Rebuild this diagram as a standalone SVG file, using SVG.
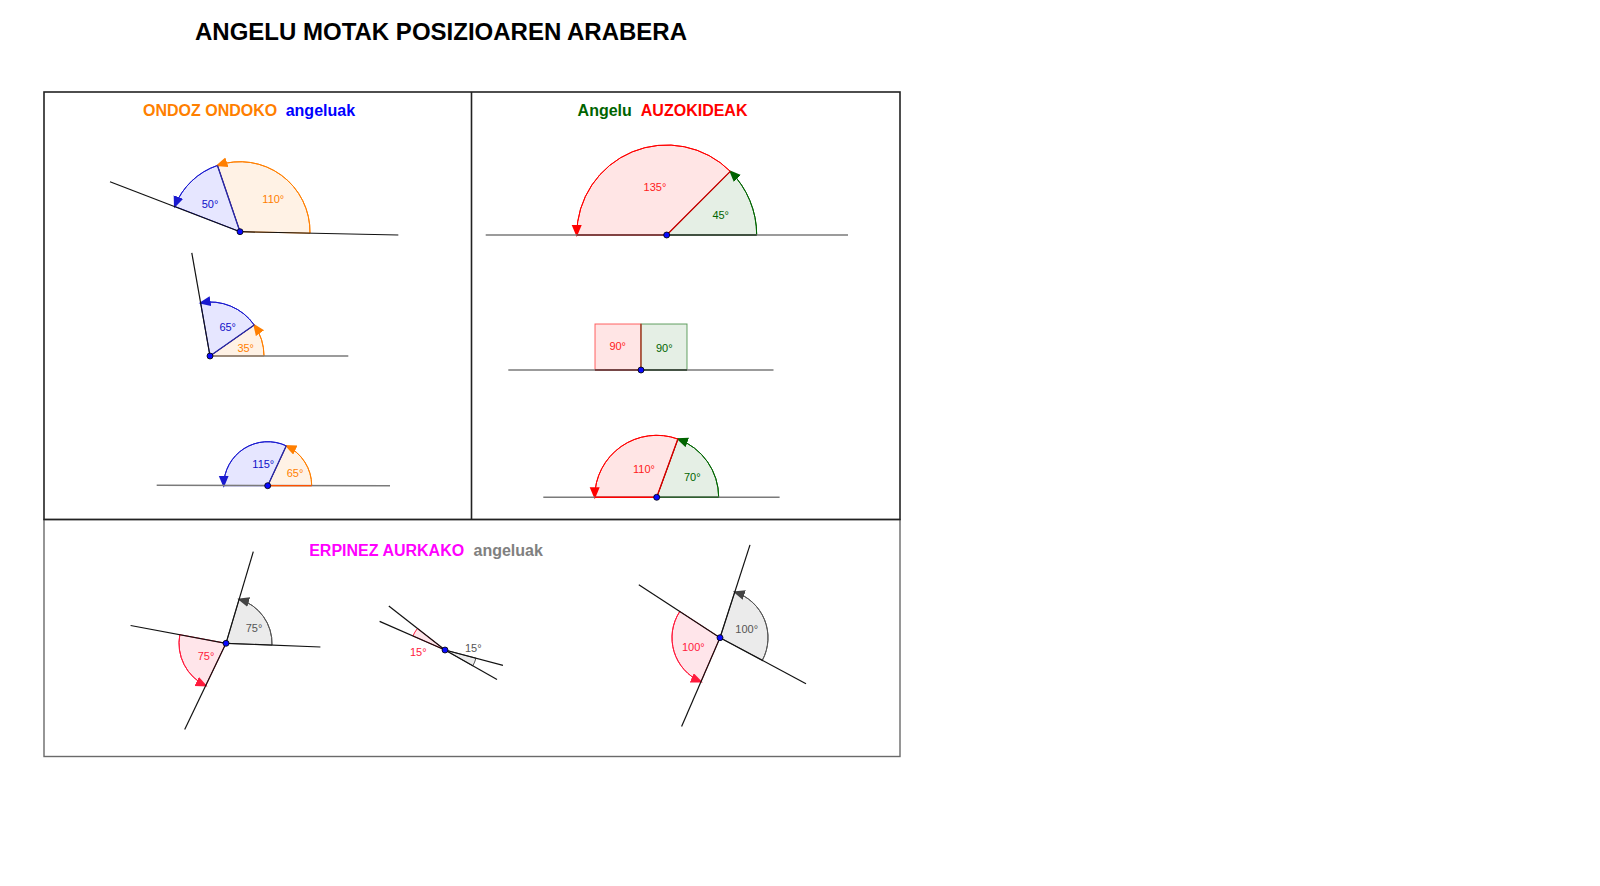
<svg xmlns="http://www.w3.org/2000/svg" width="1600" height="886" viewBox="0 0 1600 886">
<style>
text{font-family:"Liberation Sans",Arial,sans-serif}
.title{font-size:24px;font-weight:bold;fill:#000}
.hd{font-size:16px;font-weight:bold}
.lb{font-size:11px;text-anchor:middle}
.ln{stroke:#111;stroke-width:1.2;fill:none}
.gl{stroke:#7a7a7a;stroke-width:1.6;fill:none}
.dot{fill:#0a0aff;stroke:#000;stroke-width:0.8}
.or{fill:#FFF2E5;stroke:#FF7F00;stroke-width:1}
.bl{fill:#E6E6FF;stroke:#1a1ad0;stroke-width:1}
.rd{fill:#FFE5E5;stroke:#FF0000;stroke-width:1}
.gr{fill:#E5EFE5;stroke:#006400;stroke-width:1}
.gy{fill:#EBEBEB;stroke:#555;stroke-width:1}
.pk{fill:#FFE5EA;stroke:#FF1A3C;stroke-width:1}
.arc{fill:none}
</style>
<defs>
<marker id="aO" markerUnits="userSpaceOnUse" markerWidth="14" markerHeight="12" refX="10" refY="5" orient="auto"><path d="M0,0 L12,5 L0,10 Z" fill="#FF7F00"/></marker>
<marker id="aB" markerUnits="userSpaceOnUse" markerWidth="14" markerHeight="12" refX="10" refY="5" orient="auto"><path d="M0,0 L12,5 L0,10 Z" fill="#1a1ad0"/></marker>
<marker id="aR" markerUnits="userSpaceOnUse" markerWidth="14" markerHeight="12" refX="10" refY="5" orient="auto"><path d="M0,0 L12,5 L0,10 Z" fill="#FF0000"/></marker>
<marker id="aG" markerUnits="userSpaceOnUse" markerWidth="14" markerHeight="12" refX="10" refY="5" orient="auto"><path d="M0,0 L12,5 L0,10 Z" fill="#006400"/></marker>
<marker id="aY" markerUnits="userSpaceOnUse" markerWidth="14" markerHeight="12" refX="10" refY="5" orient="auto"><path d="M0,0 L12,5 L0,10 Z" fill="#444"/></marker>
<marker id="aP" markerUnits="userSpaceOnUse" markerWidth="14" markerHeight="12" refX="10" refY="5" orient="auto"><path d="M0,0 L12,5 L0,10 Z" fill="#FF1A3C"/></marker>
</defs>
<rect width="1600" height="886" fill="#fff"/>
<text class="title" x="195" y="39.5">ANGELU MOTAK POSIZIOAREN ARABERA</text>

<g id="frame">
<rect x="44" y="519.5" width="856" height="237" fill="none" stroke="#6a6a6a" stroke-width="1.4"/>
<rect x="44" y="92" width="856" height="427.5" fill="none" stroke="#222" stroke-width="1.6"/>
<line x1="471.5" y1="92" x2="471.5" y2="519.5" stroke="#222" stroke-width="1.6"/>
</g>

<g id="headers">
<text class="hd" x="143" y="116" fill="#FF7F00">ONDOZ ONDOKO</text>
<text class="hd" x="285.7" y="116" fill="#0000FF">angeluak</text>
<text class="hd" x="577.6" y="116" fill="#006400">Angelu</text>
<text class="hd" x="640.8" y="116" fill="#FF0000">AUZOKIDEAK</text>
<text class="hd" x="309.2" y="555.8" fill="#FF00FF">ERPINEZ AURKAKO</text>
<text class="hd" x="473.5" y="555.8" fill="#808080">angeluak</text>
</g>

<g id="ondoz1">
<path class="or" d="M240,231.7 L309.98,233.17 A70,70 0 0 0 217.44,165.44 Z"/>
<path class="bl" d="M240,231.7 L217.44,165.44 A70,70 0 0 0 174.74,206.39 Z"/>
<path class="arc" stroke="#FF7F00" d="M309.98,233.17 A70,70 0 0 0 217.44,165.44" marker-end="url(#aO)"/>
<path class="arc" stroke="#1a1ad0" d="M217.44,165.44 A70,70 0 0 0 174.74,206.39" marker-end="url(#aB)"/>
<line class="ln" x1="240" y1="231.7" x2="398.3" y2="235"/>
<line class="ln" x1="240" y1="231.7" x2="110" y2="181.7"/>
<line x1="240" y1="231.7" x2="217.44" y2="165.44" stroke="#2a2aa0" stroke-width="1.3"/>
<circle class="dot" cx="240" cy="231.7" r="3"/>
<text class="lb" x="210" y="208" fill="#1010C8">50°</text>
<text class="lb" x="273.3" y="203.3" fill="#FF7F00">110°</text>
</g>

<g id="ondoz2">
<path class="or" d="M210,356 L264,356 A54,54 0 0 0 254.24,325.03 Z"/>
<path class="bl" d="M210,356 L254.24,325.03 A54,54 0 0 0 200.62,302.82 Z"/>
<path class="arc" stroke="#FF7F00" d="M264,356 A54,54 0 0 0 254.24,325.03" marker-end="url(#aO)"/>
<path class="arc" stroke="#1a1ad0" d="M254.24,325.03 A54,54 0 0 0 200.62,302.82" marker-end="url(#aB)"/>
<line class="gl" x1="210" y1="356" x2="348.3" y2="356"/>
<line class="ln" x1="210" y1="356" x2="191.8" y2="252.9"/>
<line x1="210" y1="356" x2="254.24" y2="325.03" stroke="#2a2aa0" stroke-width="1.3"/>
<circle class="dot" cx="210" cy="356" r="3"/>
<text class="lb" x="227.7" y="330.7" fill="#1010C8">65°</text>
<text class="lb" x="245.7" y="352.3" fill="#FF7F00">35°</text>
</g>

<g id="ondoz3">
<path class="or" d="M267.7,485.7 L311.7,485.7 A44,44 0 0 0 286.29,445.82 Z"/>
<path class="bl" d="M267.7,485.7 L286.29,445.82 A44,44 0 0 0 223.7,485.7 Z"/>
<path class="arc" stroke="#FF7F00" d="M311.7,485.7 A44,44 0 0 0 286.29,445.82" marker-end="url(#aO)"/>
<path class="arc" stroke="#1a1ad0" d="M286.29,445.82 A44,44 0 0 0 223.7,485.7" marker-end="url(#aB)"/>
<line class="gl" x1="156.7" y1="485.3" x2="390" y2="485.7"/>
<line x1="267.7" y1="485.7" x2="311.7" y2="485.7" stroke="#FF5000" stroke-width="1.3"/>
<line x1="267.7" y1="485.7" x2="286.29" y2="445.82" stroke="#2a2aa0" stroke-width="1.3"/>
<circle class="dot" cx="267.7" cy="485.7" r="3"/>
<text class="lb" x="263.3" y="468.3" fill="#1010C8">115°</text>
<text class="lb" x="295" y="477.3" fill="#FF7F00">65°</text>
</g>

<g id="auzo1">
<path class="gr" d="M666.7,235 L756.7,235 A90,90 0 0 0 730.34,171.36 Z"/>
<path class="rd" d="M666.7,235 L730.34,171.36 A90,90 0 0 0 576.7,235 Z"/>
<path class="arc" stroke="#006400" d="M756.7,235 A90,90 0 0 0 730.34,171.36" marker-end="url(#aG)"/>
<path class="arc" stroke="#FF0000" d="M730.34,171.36 A90,90 0 0 0 576.7,235" marker-end="url(#aR)"/>
<line class="gl" x1="485.7" y1="235" x2="848" y2="235"/>
<line x1="576.7" y1="235" x2="666.7" y2="235" stroke="#7a3030" stroke-width="1.6"/>
<line x1="666.7" y1="235" x2="756.7" y2="235" stroke="#2f3f2f" stroke-width="1.6"/>
<line x1="666.7" y1="235" x2="730.34" y2="171.36" stroke="#c00000" stroke-width="1.2"/>
<circle class="dot" cx="666.7" cy="235" r="3"/>
<text class="lb" x="655" y="190.7" fill="#FF2020">135°</text>
<text class="lb" x="720.7" y="219" fill="#006400">45°</text>
</g>

<g id="auzo2">
<rect class="rd" x="595" y="324" width="46" height="46" stroke-opacity="0.6"/>
<rect class="gr" x="641" y="324" width="46" height="46" stroke-opacity="0.6"/>
<line class="gl" x1="508.3" y1="370" x2="773.5" y2="370"/>
<line x1="595" y1="370" x2="641" y2="370" stroke="#6a3030" stroke-width="1.6"/>
<line x1="641" y1="370" x2="687" y2="370" stroke="#2f3f2f" stroke-width="1.6"/>
<line x1="641" y1="324" x2="641" y2="370" stroke="#b04030" stroke-width="1.4"/>
<circle class="dot" cx="641" cy="370" r="3"/>
<text class="lb" x="617.7" y="350" fill="#FF2020">90°</text>
<text class="lb" x="664.3" y="351.7" fill="#006400">90°</text>
</g>

<g id="auzo3">
<path class="gr" d="M656.7,497.3 L718.7,497.3 A62,62 0 0 0 677.9,439.04 Z"/>
<path class="rd" d="M656.7,497.3 L677.9,439.04 A62,62 0 0 0 594.7,497.3 Z"/>
<path class="arc" stroke="#006400" d="M718.7,497.3 A62,62 0 0 0 677.9,439.04" marker-end="url(#aG)"/>
<path class="arc" stroke="#FF0000" d="M677.9,439.04 A62,62 0 0 0 594.7,497.3" marker-end="url(#aR)"/>
<line class="gl" x1="543.3" y1="497.3" x2="779.6" y2="497.3"/>
<line x1="594.7" y1="497.3" x2="656.7" y2="497.3" stroke="#FF0000" stroke-width="1.4"/>
<line x1="656.7" y1="497.3" x2="718.7" y2="497.3" stroke="#2f5f2f" stroke-width="1.4"/>
<line x1="656.7" y1="497.3" x2="677.9" y2="439.04" stroke="#d00000" stroke-width="1.3"/>
<circle class="dot" cx="656.7" cy="497.3" r="3"/>
<text class="lb" x="644" y="473.3" fill="#FF2020">110°</text>
<text class="lb" x="692.3" y="480.7" fill="#006400">70°</text>
</g>

<g id="erpin1">
<path class="gy" d="M226,643.3 L271.97,645.1 A46,46 0 0 0 239.14,599.22 Z"/>
<path class="pk" d="M226,643.3 L179.8,634.68 A47,47 0 0 0 205.71,685.7 Z"/>
<path class="arc" stroke="#555" d="M271.97,645.1 A46,46 0 0 0 239.14,599.22" marker-end="url(#aY)"/>
<path class="arc" stroke="#FF1A3C" d="M179.8,634.68 A47,47 0 0 0 205.71,685.7" marker-end="url(#aP)"/>
<line class="ln" x1="226" y1="643.3" x2="320.4" y2="647"/>
<line class="ln" x1="226" y1="643.3" x2="253.3" y2="551.7"/>
<line class="ln" x1="226" y1="643.3" x2="130.6" y2="625.5"/>
<line class="ln" x1="226" y1="643.3" x2="184.7" y2="729.6"/>
<circle class="dot" cx="226" cy="643.3" r="3"/>
<text class="lb" x="254" y="632.3" fill="#555">75°</text>
<text class="lb" x="206" y="660" fill="#FF1A3C">75°</text>
</g>

<g id="erpin2">
<path class="pk" d="M445,650 L417.44,628.43 A35,35 0 0 0 412.93,635.98 Z"/>
<path class="gy" d="M445,650 L472.81,665.83 A32,32 0 0 0 475.94,658.16 Z"/>
<line class="ln" x1="445" y1="650" x2="379.6" y2="621.4"/>
<line class="ln" x1="445" y1="650" x2="503" y2="665.3"/>
<line class="ln" x1="445" y1="650" x2="388.8" y2="606"/>
<line class="ln" x1="445" y1="650" x2="497" y2="679.6"/>
<circle class="dot" cx="445" cy="650" r="3"/>
<text class="lb" x="418.3" y="655.7" fill="#FF1A3C">15°</text>
<text class="lb" x="473.3" y="651.7" fill="#555">15°</text>
</g>

<g id="erpin3">
<path class="gy" d="M720,637.7 L762.33,660.34 A48,48 0 0 0 734.76,592.02 Z"/>
<path class="pk" d="M720,637.7 L679.8,611.46 A48,48 0 0 0 700.95,681.76 Z"/>
<path class="arc" stroke="#555" d="M762.33,660.34 A48,48 0 0 0 734.76,592.02" marker-end="url(#aY)"/>
<path class="arc" stroke="#FF1A3C" d="M679.8,611.46 A48,48 0 0 0 700.95,681.76" marker-end="url(#aP)"/>
<line class="ln" x1="720" y1="637.7" x2="750" y2="544.9"/>
<line class="ln" x1="720" y1="637.7" x2="806" y2="683.7"/>
<line class="ln" x1="720" y1="637.7" x2="638.8" y2="584.7"/>
<line class="ln" x1="720" y1="637.7" x2="681.6" y2="726.5"/>
<circle class="dot" cx="720" cy="637.7" r="3"/>
<text class="lb" x="746.7" y="633" fill="#555">100°</text>
<text class="lb" x="693.3" y="651.3" fill="#FF1A3C">100°</text>
</g>
</svg>
